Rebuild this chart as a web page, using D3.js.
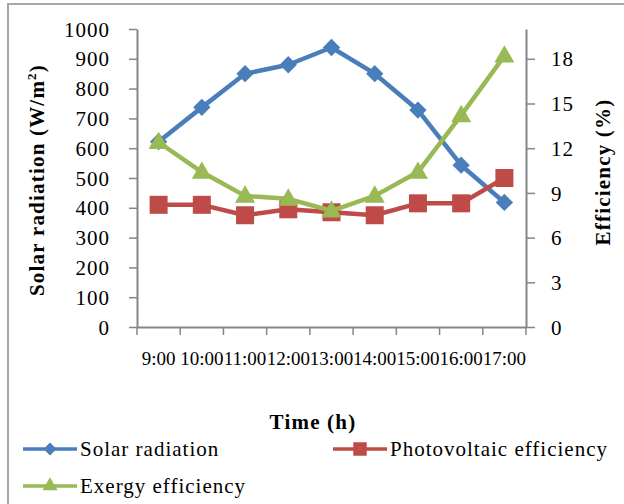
<!DOCTYPE html>
<html>
<head>
<meta charset="utf-8">
<script src="https://d3js.org/d3.v7.min.js"></script>
<style>
  body { margin: 0; background: #fff; }
  text { font-family: "Liberation Serif", "Times New Roman", Times, serif; fill: #000; }
</style>
</head>
<body>
<div id="chart"></div>
<script>
// data
const times = ['9:00', '10:00', '11:00', '12:00', '13:00', '14:00', '15:00', '16:00', '17:00'];
const solarRadiation = [622, 737, 850, 880, 938, 850, 728, 543, 418];
const pvEfficiency = [8.2, 8.2, 7.5, 7.9, 7.7, 7.5, 8.3, 8.3, 10.0];
const exergyEfficiency = [12.4, 10.4, 8.8, 8.6, 7.8, 8.8, 10.4, 14.2, 18.2];
const leftTicks = [0, 100, 200, 300, 400, 500, 600, 700, 800, 900, 1000];
const rightTicks = [0, 3, 6, 9, 12, 15, 18];

const width = 624, height = 504;
const plot = { left: 137, right: 526, top: 29, bottom: 327 };

const svg = d3.select('#chart')
  .append('svg')
  .attr('width', width)
  .attr('height', height);

// outer chart frame (right/bottom run off the picture)
svg.append('rect')
  .attr('x', 8).attr('y', 4)
  .attr('width', 640).attr('height', 520)
  .attr('fill', 'none')
  .attr('stroke', '#a6a6a6')
  .attr('stroke-width', 2);

// scales
const x = d3.scaleBand()
  .domain(times)
  .range([plot.left, plot.right]);

const yLeft = d3.scaleLinear()
  .domain([0, 1000])
  .range([plot.bottom, plot.top]);

const yRight = d3.scaleLinear()
  .domain([0, 20])
  .range([plot.bottom, plot.top]);

const axisColor = '#868686';

// left axis
const leftAxis = svg.append('g')
  .attr('transform', `translate(${plot.left},0)`)
  .call(d3.axisLeft(yLeft).tickValues(leftTicks).tickFormat(d3.format('d'))
    .tickSize(8).tickPadding(19).tickSizeOuter(0));

// right axis
const rightAxis = svg.append('g')
  .attr('transform', `translate(${plot.right},0)`)
  .call(d3.axisRight(yRight).tickValues(rightTicks).tickFormat(d3.format('d'))
    .tickSize(9).tickPadding(16).tickSizeOuter(0));

// x axis: ticks between categories, labels centred in the band
const xAxis = svg.append('g')
  .attr('transform', `translate(0,${plot.bottom})`)
  .call(d3.axisBottom(x).tickSize(0).tickPadding(38).tickSizeOuter(0));

xAxis.selectAll('.tick')
  .append('line')
  .attr('class', 'sep')
  .attr('x1', -x.bandwidth() / 2).attr('x2', -x.bandwidth() / 2)
  .attr('y1', 0).attr('y2', 8);
xAxis.append('line')
  .attr('class', 'sep')
  .attr('x1', plot.right).attr('x2', plot.right)
  .attr('y1', 0).attr('y2', 8);

[leftAxis, rightAxis, xAxis].forEach(g => {
  g.selectAll('path, line').attr('stroke', axisColor).attr('stroke-width', 1.5);
  g.select('.domain').attr('stroke', axisColor).attr('stroke-width', 2);
  g.selectAll('text').attr('fill', '#000');
});
leftAxis.selectAll('text').attr('font-size', 21).attr('letter-spacing', 1).attr('dy', '0.34em');
rightAxis.selectAll('text').attr('font-size', 21).attr('letter-spacing', 1).attr('dy', '0.34em');
xAxis.selectAll('text').attr('font-size', 19).attr('dy', '0');

// series
const series = [
  { name: 'Solar radiation', values: solarRadiation, y: yLeft, color: '#4a7ebb', symbol: 'diamond' },
  { name: 'Photovoltaic efficiency', values: pvEfficiency, y: yRight, color: '#be4b48', symbol: 'square' },
  { name: 'Exergy efficiency', values: exergyEfficiency, y: yRight, color: '#98b954', symbol: 'triangle' }
];

const cx = d => x(d) + x.bandwidth() / 2;

function markerPath(kind, scale) {
  const k = scale || 1;
  if (kind === 'diamond') return d3.symbol(d3.symbolSquare, 150 * k * k)();
  if (kind === 'square') return d3.symbol(d3.symbolSquare, 324 * k * k)();
  return d3.symbol(d3.symbolTriangle, 175 * k * k)();
}

series.forEach(s => {
  const pts = times.map((t, i) => [cx(t), s.y(s.values[i])]);
  svg.append('path')
    .attr('d', d3.line()(pts))
    .attr('fill', 'none')
    .attr('stroke', s.color)
    .attr('stroke-width', 4.5)
    .attr('stroke-linejoin', 'round');

  svg.append('g')
    .selectAll('path')
    .data(pts)
    .enter()
    .append('path')
    .attr('d', markerPath(s.symbol))
    .attr('transform', d => `translate(${d[0]},${d[1] + (s.symbol === 'triangle' ? 1 : 0)})` + (s.symbol === 'diamond' ? ' rotate(45)' : ''))
    .attr('fill', s.color);
});

// axis titles
const leftTitle = svg.append('text')
  .attr('transform', 'translate(44,180) rotate(-90)')
  .attr('text-anchor', 'middle')
  .attr('font-size', 21)
  .attr('font-weight', 'bold')
  .attr('letter-spacing', 1.2);
leftTitle.append('tspan').text('Solar radiation (W/m');
leftTitle.append('tspan').attr('font-size', 13).attr('dy', -8).text('2');
leftTitle.append('tspan').attr('dy', 8).text(')');

svg.append('text')
  .attr('transform', 'translate(610,172) rotate(-90)')
  .attr('text-anchor', 'middle')
  .attr('font-size', 21)
  .attr('font-weight', 'bold')
  .attr('letter-spacing', 1.2)
  .text('Efficiency (%)');

svg.append('text')
  .attr('x', 313).attr('y', 429)
  .attr('text-anchor', 'middle')
  .attr('font-size', 21)
  .attr('font-weight', 'bold')
  .attr('letter-spacing', 1.2)
  .text('Time (h)');

// legend
const legendPos = [
  { x: 23, y: 449 },
  { x: 333, y: 449 },
  { x: 23, y: 486 }
];

const legend = svg.append('g')
  .selectAll('g')
  .data(series)
  .enter()
  .append('g')
  .attr('transform', (d, i) => `translate(${legendPos[i].x},${legendPos[i].y})`);

legend.append('line')
  .attr('x1', 0).attr('x2', 54)
  .attr('y1', 0).attr('y2', 0)
  .attr('stroke', d => d.color)
  .attr('stroke-width', 3.5);

legend.append('path')
  .attr('d', d => markerPath(d.symbol, 0.75))
  .attr('transform', d => 'translate(27,0)' + (d.symbol === 'diamond' ? ' rotate(45)' : ''))
  .attr('fill', d => d.color);

legend.append('text')
  .attr('x', 57)
  .attr('y', 0)
  .attr('dy', '0.34em')
  .attr('font-size', 21)
  .attr('letter-spacing', 1)
  .text(d => d.name);
</script>
</body>
</html>
